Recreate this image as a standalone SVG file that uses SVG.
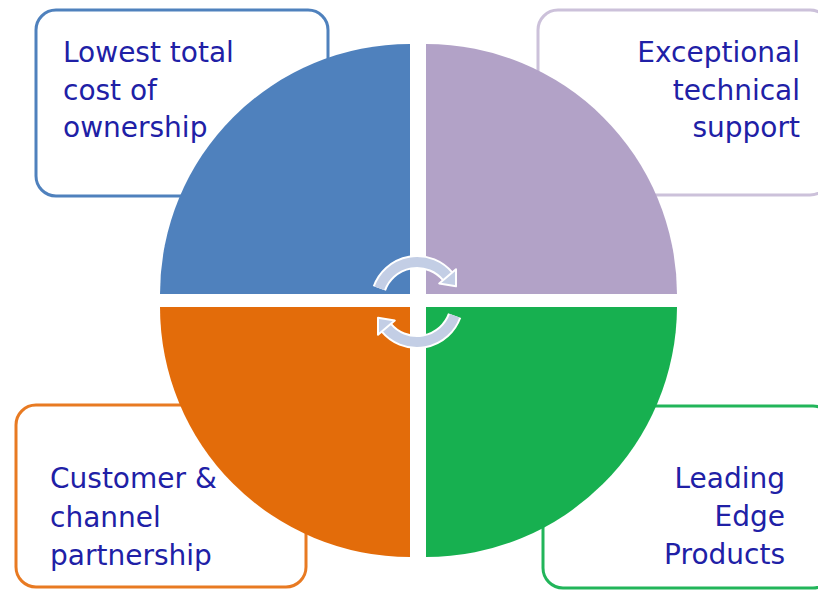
<svg xmlns="http://www.w3.org/2000/svg" width="818" height="590" viewBox="0 0 818 590">
<style>
.box{fill:#FFFFFF;stroke-width:3}
.lbl{font-family:"DejaVu Sans","Liberation Sans",sans-serif;font-size:28px;fill:#2020A6}
.r{text-anchor:end}
.arc{fill:none;stroke:#C3CEE5;stroke-width:10}
.arcw{fill:none;stroke:#FFFFFF;stroke-width:14}
.head{fill:#C3CEE5;stroke:#FFFFFF;stroke-width:2;stroke-linejoin:round}
</style>
<rect width="818" height="590" fill="#FFFFFF"/>
<g id="box-tl"><rect class="box" x="36" y="10" width="292" height="186" rx="20" stroke="#4F81BD"/></g>
<g id="box-tr"><rect class="box" x="538" y="10" width="292" height="185" rx="20" stroke="#CCC1DA"/></g>
<g id="box-bl"><rect class="box" x="16" y="405" width="290" height="182" rx="20" stroke="#E87A22"/></g>
<g id="box-br"><rect class="box" x="543" y="406" width="290" height="182" rx="20" stroke="#22B55A"/></g>
<g id="q-blue"><path d="M410,294 L160,294 A250,250 0 0 1 410,44 Z" fill="#4F81BD"/></g>
<g id="q-purple"><path d="M426,294 L426,44 A251,251 0 0 1 677,294 Z" fill="#B2A2C7"/></g>
<g id="q-orange"><path d="M410,307 L410,557 A250,250 0 0 1 160,307 Z" fill="#E36C0A"/></g>
<g id="q-green"><path d="M426,307 L677,307 A251,251 0 0 1 426,557 Z" fill="#17B050"/></g>
<g id="connectors">
<path class="arcw" d="M379.4,288.3 A40,40 0 0 1 447.6,276.3"/>
<path class="arc" d="M379.4,288.3 A40,40 0 0 1 447.6,276.3"/>
<polygon class="head" points="456,286.3 456,269.2 439.2,283.4"/>
<path class="arcw" d="M454.6,315.7 A40,40 0 0 1 386.4,327.7"/>
<path class="arc" d="M454.6,315.7 A40,40 0 0 1 386.4,327.7"/>
<polygon class="head" points="378,317.7 378,334.8 394.8,320.6"/>
</g>
<g id="text-tl"><text class="lbl" x="63" y="62">Lowest total</text><text class="lbl" x="63" y="100">cost of</text><text class="lbl" x="63" y="137">ownership</text></g>
<g id="text-tr"><text class="lbl r" x="800" y="62">Exceptional</text><text class="lbl r" x="800" y="100">technical</text><text class="lbl r" x="800" y="137">support</text></g>
<g id="text-bl"><text class="lbl" x="50" y="488">Customer &amp;</text><text class="lbl" x="50" y="527">channel</text><text class="lbl" x="50" y="565">partnership</text></g>
<g id="text-br"><text class="lbl r" x="785" y="488">Leading</text><text class="lbl r" x="785" y="526">Edge</text><text class="lbl r" x="785" y="564">Products</text></g>
</svg>
